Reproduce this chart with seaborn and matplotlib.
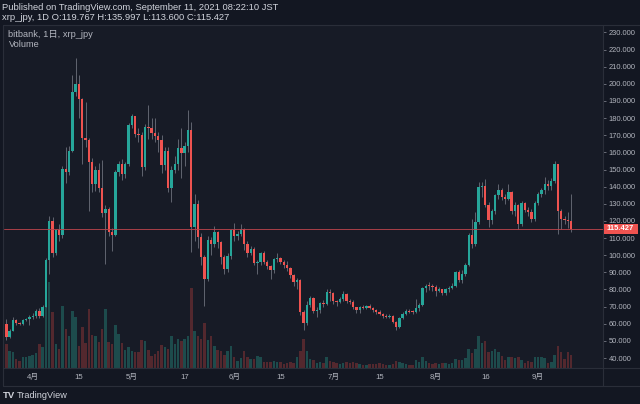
import numpy as np
import pandas as pd
import matplotlib
matplotlib.use("Agg")
import matplotlib.pyplot as plt
import matplotlib.transforms as mtrans
from matplotlib.patches import Rectangle
from matplotlib.lines import Line2D
import seaborn as sns

# ---------------- data ----------------
start_date = "2021-03-24"
end_date = "2021-09-11"
first_open = 60.0

close_mar = [52.5, 56, 62, 60.2, 59.8, 62.3, 62.8, 63.8]
close_apr = [64.5, 67.5, 64.5, 70, 97, 120, 101, 114.5, 111.5, 150.5, 148.5, 161, 195, 200, 191,
             168.5, 167.5, 154.5, 141.3, 150, 139.5, 124.6, 127, 113.5, 112, 148.5, 153, 147.5, 153.5, 176]
close_may = [181, 171, 170, 151.5, 175, 174, 171.5, 169.5, 167.5, 152.5, 161, 139.2, 149.5, 153.4, 162.8,
             159.7, 163.5, 173.3, 116.4, 130, 110.6, 98.9, 86.3, 109.1, 106.7, 113.5, 107.8, 98.9, 92.1, 99.8, 114.5]
close_jun = [111, 112.1, 115.4, 106.3, 101.2, 103.8, 95.6, 96.3, 101.2, 96.3, 93.6, 91.1, 97.9, 98.3, 96.3,
             94, 92.5, 88.5, 84.2, 85.6, 66.7, 60.3, 71.2, 75.1, 67.7, 68.1, 72, 71.6, 78.4, 78]
close_jul = [73.5, 72.6, 74.5, 77.5, 73.2, 72.6, 69.5, 67.8, 70, 69.4, 70.6, 69.3, 68, 66.8, 65.8,
             64.8, 64.2, 64.5, 61.1, 58, 63.4, 65.9, 67.7, 67.1, 66.7, 69, 71.2, 80.6, 82.2, 81.9, 81.3]
close_aug = [79.4, 80.1, 77.8, 80, 81, 82.2, 90.1, 85.6, 89.1, 94, 111.5, 106.7, 119.4, 139.8, 140.5,
             129.2, 120.4, 125.5, 135.2, 137.8, 133.9, 133, 136.6, 125.5, 129.2, 118, 130.5, 126.3, 125.2, 121, 130.5]
close_sep = [135.9, 137.8, 141.7, 140.5, 143.3, 153, 125.5, 121.3, 120.5, 119.767, 115.427]

high_mar = [62.8, 57, 63.8, 63, 61, 63, 63.5, 65]
high_apr = [66, 68.5, 69, 71, 98.5, 122.8, 122, 115.5, 118, 152, 163.3, 163.5, 205, 214.8, 205,
            192, 189.4, 168.5, 157, 152, 154, 155.4, 129, 128, 116, 150, 155, 156, 154.5, 177]
high_may = [182.6, 181.5, 174, 172, 176.5, 187.6, 180, 180, 172, 170, 163, 163, 152, 158, 168,
            174, 166, 185, 178, 136, 132, 113, 100, 111, 110.5, 117, 114, 108.5, 100, 101, 115.5]
high_jun = [119, 114, 118.4, 116, 108, 105.5, 105, 97, 102, 102.5, 97, 94.5, 98.5, 101, 99,
            97, 96.5, 93, 89, 86.5, 86, 68, 73, 76, 75.5, 69.5, 72.5, 74, 80.5, 80]
high_jul = [78.5, 74, 75.5, 79, 77.8, 74.5, 74, 70, 70.5, 71, 71.2, 71.5, 69.8, 68.5, 68.2,
            66.5, 65.5, 65.5, 65, 61.5, 64, 66.8, 68.5, 68.5, 67.8, 74.5, 72, 81.5, 83, 84.5, 83]
high_aug = [82.5, 81.5, 80.5, 80.8, 82, 84, 91, 91.5, 91.5, 95.5, 113, 121, 125, 142.7, 143,
            144.7, 131, 127, 136, 141.6, 139, 136, 141.5, 137.5, 131, 130, 131.5, 131, 128, 127, 131.5]
high_sep = [137, 139, 145.5, 144, 145, 154.9, 153.5, 127, 123, 125, 135.997]

low_mar = [50.7, 51.5, 55.5, 59.5, 59, 59.3, 61.5, 59]
low_apr = [62.5, 63.5, 63.5, 64, 69.5, 89, 99, 100, 108, 110, 142, 147, 160, 193, 180,
           153, 163, 126, 137, 137.5, 137, 122, 95, 111, 102.7, 111, 146, 144, 145, 152]
low_may = [174, 169, 166, 146, 150, 168, 168, 166, 160, 148, 150, 137, 131, 148, 150,
           145, 152, 160, 102, 108, 104, 94, 70.6, 85, 100, 105, 104, 95, 89, 90, 98]
low_jun = [108, 109, 111, 103, 99, 100, 94, 89, 94, 95, 92, 86, 89.5, 96, 95,
           92.5, 91, 86.5, 82, 80, 65, 56.1, 59, 70, 66, 64, 66.5, 70, 71, 73]
low_jul = [71.5, 70.5, 72, 73, 72, 71.5, 68.5, 66, 66.5, 68.5, 68.8, 68.5, 67, 65.5, 65,
           63.5, 63.5, 63.5, 60.5, 56.4, 57.5, 62.5, 65, 66, 65.5, 66, 67.5, 70.5, 78.5, 79.5, 79]
low_aug = [76, 78.5, 76.5, 77, 78.5, 80.5, 81.5, 84.5, 84, 88, 93.5, 104, 105.5, 118, 134,
           128, 116.4, 118, 124, 133, 132, 130, 132, 124, 123, 115.4, 117, 125, 123, 119.5, 120]
low_sep = [129, 134, 136, 138, 138, 142, 112.6, 115, 118, 116, 113.6]

vol_mar = [24, 17, 16, 9, 7, 11, 11, 12]
vol_apr = [13, 15, 24, 21, 61, 86, 56, 24, 19, 62, 39, 32, 57, 51, 22,
           41, 25, 59, 33, 32, 26, 39, 59, 26, 24, 43, 34, 25, 18, 21]
vol_may = [17, 16, 16, 28, 27, 18, 12, 14, 17, 23, 21, 19, 32, 24, 29,
           27, 29, 32, 80, 37, 32, 29, 45, 28, 32, 22, 18, 17, 13, 17, 22]
vol_jun = [11, 7, 10, 17, 11, 9, 9, 12, 11, 6, 6, 6, 7, 6, 6,
           4, 5, 6, 5, 11, 17, 29, 17, 9, 8, 5, 6, 5, 11, 7]
vol_jul = [6, 5, 4, 5, 6, 5, 6, 5, 4, 3, 3, 4, 4, 4, 5,
           4, 3, 3, 4, 7, 6, 5, 4, 3, 3, 8, 6, 11, 7, 5, 4]
vol_aug = [5, 4, 5, 5, 4, 5, 9, 8, 8, 10, 19, 15, 19, 32, 25,
           27, 16, 17, 19, 16, 12, 8, 11, 11, 10, 11, 8, 5, 7, 6, 11]
vol_sep = [11, 11, 10, 5, 6, 13, 22, 16, 9, 16, 13]

tick_dates = ["2021-04-01", "2021-04-15", "2021-05-01", "2021-05-17", "2021-06-01", "2021-06-15",
              "2021-07-01", "2021-07-15", "2021-08-01", "2021-08-16", "2021-09-01"]
tick_labels = ["4月", "15", "5月", "17", "6月", "15", "7月", "15", "8月", "16", "9月"]
price_ticks = [40, 50, 60, 70, 80, 90, 100, 110, 120, 130, 140, 150, 160, 170, 180, 190, 200, 210, 220, 230]
last_close = 115.427

header_1 = "Published on TradingView.com, September 11, 2021 08:22:10 JST"
header_2 = "xrp_jpy, 1D O:119.767 H:135.997 L:113.600 C:115.427"
legend_1 = "bitbank, 1日, xrp_jpy"
legend_2 = "Volume"

# ---------------- frame ----------------
close_px = close_mar + close_apr + close_may + close_jun + close_jul + close_aug + close_sep
high_px = high_mar + high_apr + high_may + high_jun + high_jul + high_aug + high_sep
low_px = low_mar + low_apr + low_may + low_jun + low_jul + low_aug + low_sep
volume = vol_mar + vol_apr + vol_may + vol_jun + vol_jul + vol_aug + vol_sep

dates = pd.date_range(start_date, end_date, freq="D")
df = pd.DataFrame({"date": dates, "close": close_px, "high": high_px, "low": low_px, "volume": volume})
df["open"] = [first_open] + close_px[:-1]
df["idx"] = np.arange(len(df))
df["dir"] = np.where(df["close"] >= df["open"], "up", "down")

BG = "#131722"
PANE = "#171b26"
UP = "#26a69a"
DOWN = "#ef5350"
VUP = "#1d4b4c"
VDOWN = "#53282e"
WICK = "#6d707b"
TXT = "#d1d4dc"
TXT2 = "#b2b5be"
LINE = "#2a2e39"

sns.set_theme(style="dark")
plt.rcParams["font.family"] = ["Liberation Sans", "Noto Sans CJK JP"]

W, H = 640, 404
fig = plt.figure(figsize=(6.4, 4.04), dpi=100, facecolor=BG)
L, R, T, B = 4, 603, 25, 368
axv = fig.add_axes([L / W, 1 - B / H, (R - L) / W, (B - T) / H])
axv.set_facecolor(PANE)

# volume (underlay)
sns.barplot(data=df, x="idx", y="volume", hue="dir", palette={"up": VUP, "down": VDOWN},
            native_scale=True, dodge=False, width=0.75, saturation=1, errorbar=None,
            legend=False, ax=axv, linewidth=0)
axv.set_ylim(0, max(volume) / 0.25)
axv.set_xlim(-0.7, 180.65)
axv.set_yticks([])
axv.set_xlabel("")
axv.set_ylabel("")
tick_pos = [int(df.index[df["date"] == pd.Timestamp(d)][0]) for d in tick_dates]
axv.set_xticks(tick_pos)
axv.set_xticklabels(tick_labels)
axv.tick_params(axis="x", length=0, pad=4.5, labelsize=5.6, labelcolor=TXT2)
axv.grid(False)
for s in axv.spines.values():
    s.set_visible(False)

# candles
ax = axv.twinx()
ax.set_ylim(34.2, 234.3)
up = df["dir"] == "up"
body_low = np.minimum(df["open"], df["close"])
body_h = np.maximum(np.abs(df["close"] - df["open"]), 0.5)
colors = np.where(up, UP, DOWN)
ax.vlines(df["idx"], df["low"], df["high"], color=WICK, lw=0.6, zorder=1)
ax.bar(df["idx"], body_h, bottom=body_low, width=0.72, color=colors, linewidth=0, zorder=2)
ax.axhline(last_close, color="#b9444b", lw=0.7, ls="-", alpha=0.9, zorder=3)
ax.set_yticks(price_ticks)
ax.set_yticklabels([f"{v:.3f}" for v in price_ticks])
ax.tick_params(axis="y", right=True, length=2.5, width=0.6, color="#787b86",
               pad=1.5, labelsize=5.4, labelcolor=TXT2)
ax.grid(False)
for s in ax.spines.values():
    s.set_visible(False)

# frame lines
def fline(x0, y0, x1, y1):
    fig.add_artist(Line2D([x0 / W, x1 / W], [1 - y0 / H, 1 - y1 / H], transform=fig.transFigure,
                          color=LINE, lw=0.8, zorder=4))

fline(3, 25, 640, 25)
fline(3, 25, 3, 386)
fline(3, 368, 640, 368)
fline(3, 386, 640, 386)
fline(603, 25, 603, 386)

# last price label
blend = mtrans.blended_transform_factory(fig.transFigure, ax.transData)
box_h = 10.5 / ((B - T) / (234.3 - 34.2))
fig.add_artist(Rectangle((603.5 / W, last_close - box_h / 2), 34 / W, box_h, transform=blend,
                         facecolor=DOWN, edgecolor="none", zorder=5))
fig.text(620.5 / W, last_close, f"{last_close:.3f}", transform=blend, ha="center", va="center",
         fontsize=5.4, color="white", fontweight="bold", zorder=6)

# texts
fig.text(2 / W, 1 - 7.3 / H, header_1, ha="left", va="center", fontsize=6.75, color=TXT)
fig.text(2 / W, 1 - 17 / H, header_2, ha="left", va="center", fontsize=6.75, color=TXT)
fig.text(8.5 / W, 1 - 34.5 / H, legend_1, ha="left", va="center", fontsize=6.7, color=TXT2)
fig.text(8.5 / W, 1 - 44.5 / H, legend_2, ha="left", va="center", fontsize=6.7, color=TXT2)
fig.text(3 / W, 1 - 395.5 / H, "TV", ha="left", va="center", fontsize=6.8, color=TXT, fontweight="bold")
fig.text(17 / W, 1 - 395.5 / H, "TradingView", ha="left", va="center", fontsize=6.6, color=TXT)

fig.savefig("out.png", dpi=100, facecolor=BG)
